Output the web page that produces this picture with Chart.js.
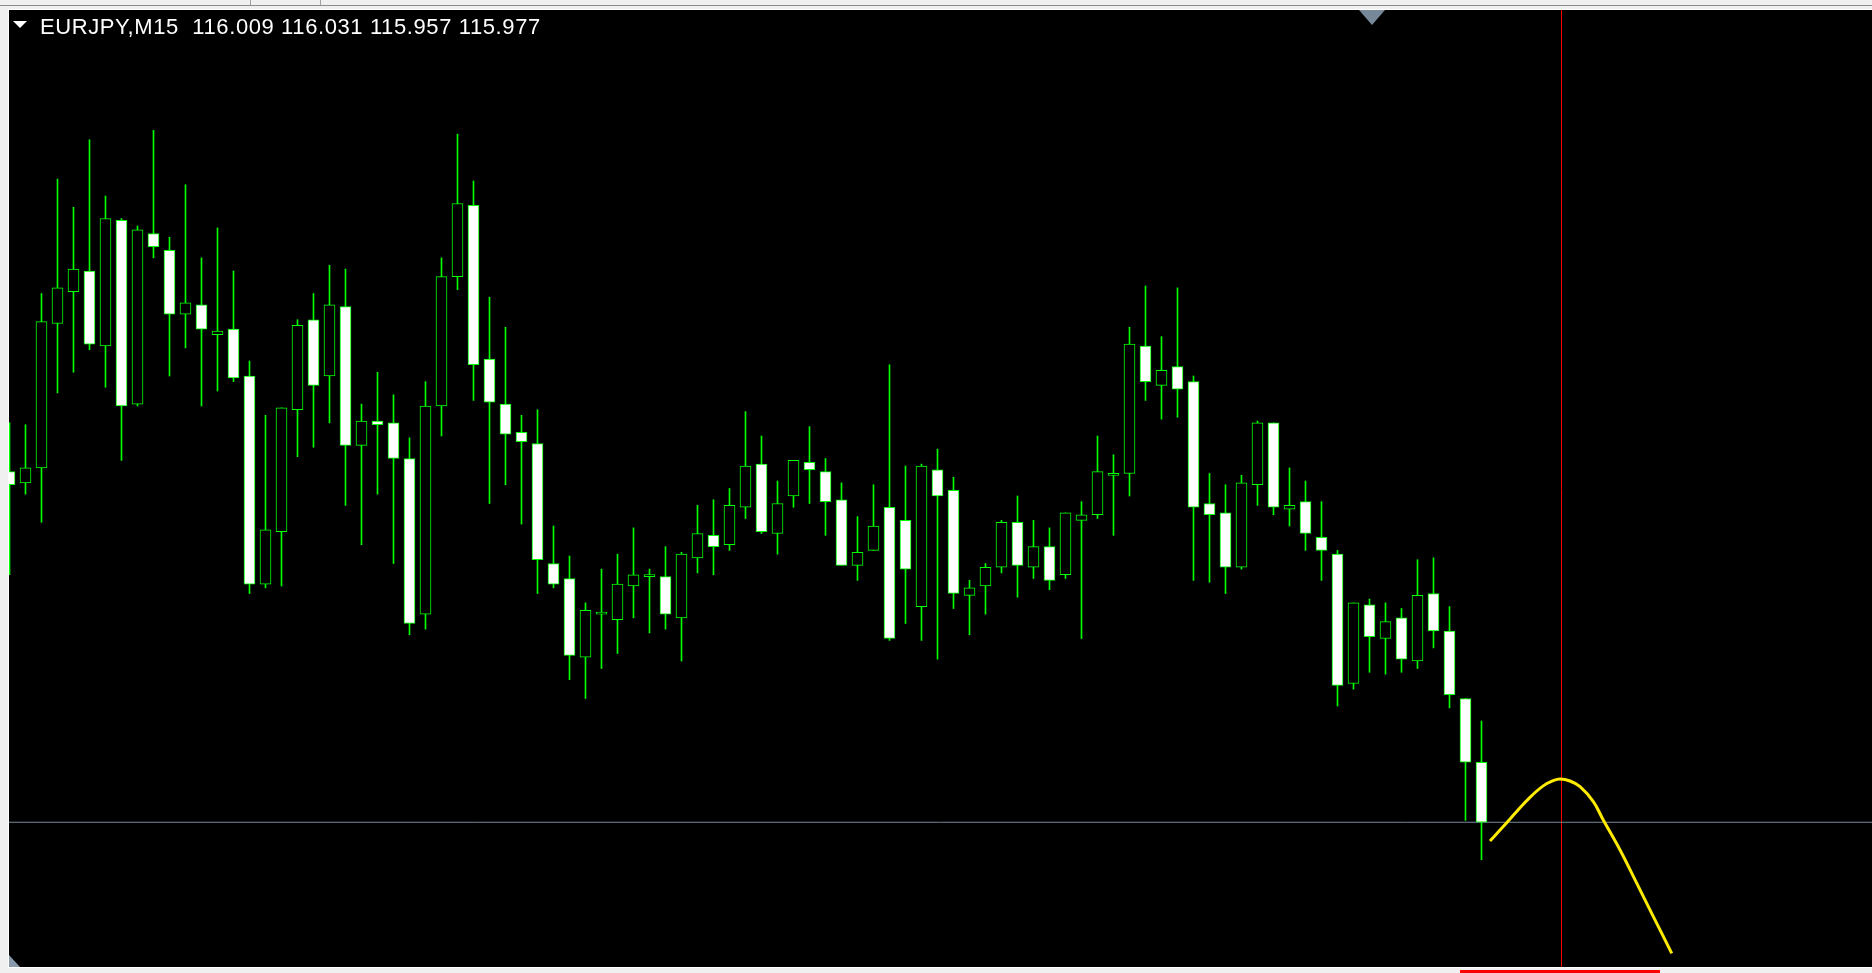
<!DOCTYPE html>
<html>
<head>
<meta charset="utf-8">
<script src="https://cdn.jsdelivr.net/npm/chart.js@4.4.1/dist/chart.umd.min.js"></script>
<style>
  html, body { margin: 0; padding: 0; width: 1872px; height: 973px; overflow: hidden; background: #f0f0f0; }
  #topline { position: absolute; left: 0; top: 5px; width: 1872px; height: 1px; background: #8c8c8c; }
  .tabsep { position: absolute; top: 0; width: 1px; height: 5px; background: #a0a0a0; }
  #frame {
    position: absolute; left: 8px; top: 9px; width: 1864px; height: 959px;
    box-sizing: border-box; background: #000;
    border-left: 1px solid #fff; border-top: 1px solid #fff; border-bottom: 1px solid #fff;
  }
  #chart { position: absolute; left: 0; top: 0; }
  #title {
    position: absolute; left: 40px; top: 16px; color: #fff; white-space: pre;
    font: 22px/22px "Liberation Sans", Arial, sans-serif; letter-spacing: 0.6px;
  }
  #menuArrow {
    position: absolute; left: 13px; top: 21px; width: 0; height: 0;
    border-left: 7px solid transparent; border-right: 7px solid transparent; border-top: 7px solid #fff;
  }
  #shiftMark {
    position: absolute; left: 1359px; top: 10px; width: 0; height: 0;
    border-left: 13px solid transparent; border-right: 13px solid transparent; border-top: 15px solid #778899;
  }
  #scaleMark {
    position: absolute; left: 9px; top: 955px; width: 11px; height: 12px; background: #8899aa;
    clip-path: polygon(0 0, 0 100%, 100% 100%);
  }
  #redBar { position: absolute; left: 1460px; top: 970px; width: 200px; height: 3px; background: #ff0000; }
</style>
</head>
<body>
<div id="topline"></div>
<div class="tabsep" style="left:250px"></div>
<div class="tabsep" style="left:320px"></div>
<div id="frame"><canvas id="chart" width="1863" height="957"></canvas></div>
<div id="menuArrow"></div>
<div id="title">EURJPY,M15  116.009 116.031 115.957 115.977</div>
<div id="shiftMark"></div>
<div id="scaleMark"></div>
<div id="redBar"></div>
<script>
// EURJPY M15 bars (open / high / low / close)
const opens = [116.164, 116.158, 116.166, 116.243, 116.260, 116.271, 116.231, 116.298, 116.200, 116.291,
  116.282, 116.248, 116.253, 116.237, 116.240, 116.215, 116.104, 116.132, 116.197, 116.245,
  116.215, 116.252, 116.178, 116.191, 116.190, 116.171, 116.088, 116.199, 116.268, 116.306,
  116.224, 116.200, 116.185, 116.179, 116.115, 116.107, 116.065, 116.088, 116.085, 116.103,
  116.108, 116.108, 116.086, 116.118, 116.130, 116.125, 116.145, 116.168, 116.131, 116.151,
  116.169, 116.164, 116.149, 116.114, 116.122, 116.145, 116.138, 116.092, 116.165, 116.154,
  116.098, 116.103, 116.113, 116.137, 116.113, 116.124, 116.109, 116.138, 116.141, 116.162,
  116.163, 116.231, 116.210, 116.220, 116.212, 116.147, 116.142, 116.113, 116.157, 116.190,
  116.144, 116.148, 116.129, 116.120, 116.051, 116.093, 116.075, 116.086, 116.063, 116.099,
  116.079, 116.043, 116.009];
const highs = [116.190, 116.189, 116.259, 116.320, 116.305, 116.341, 116.311, 116.299, 116.295, 116.346,
  116.289, 116.317, 116.278, 116.294, 116.271, 116.223, 116.194, 116.198, 116.245, 116.259,
  116.274, 116.272, 116.200, 116.217, 116.205, 116.182, 116.212, 116.278, 116.344, 116.319,
  116.257, 116.241, 116.194, 116.197, 116.135, 116.119, 116.094, 116.112, 116.120, 116.134,
  116.112, 116.124, 116.121, 116.146, 116.149, 116.155, 116.196, 116.183, 116.159, 116.170,
  116.188, 116.171, 116.158, 116.140, 116.157, 116.221, 116.167, 116.168, 116.176, 116.161,
  116.106, 116.115, 116.138, 116.151, 116.138, 116.134, 116.142, 116.148, 116.183, 116.173,
  116.241, 116.263, 116.236, 116.262, 116.215, 116.163, 116.157, 116.162, 116.191, 116.190,
  116.166, 116.159, 116.148, 116.122, 116.094, 116.096, 116.094, 116.091, 116.117, 116.118,
  116.092, 116.043, 116.031];
const lows = [116.109, 116.152, 116.137, 116.206, 116.217, 116.229, 116.209, 116.170, 116.199, 116.278,
  116.215, 116.230, 116.199, 116.207, 116.212, 116.099, 116.102, 116.103, 116.172, 116.177,
  116.190, 116.146, 116.125, 116.152, 116.115, 116.077, 116.080, 116.183, 116.261, 116.202,
  116.147, 116.157, 116.136, 116.099, 116.102, 116.053, 116.043, 116.059, 116.067, 116.086,
  116.078, 116.080, 116.063, 116.110, 116.109, 116.122, 116.139, 116.131, 116.120, 116.145,
  116.147, 116.130, 116.114, 116.106, 116.122, 116.074, 116.083, 116.074, 116.064, 116.091,
  116.077, 116.088, 116.110, 116.097, 116.107, 116.101, 116.107, 116.075, 116.139, 116.130,
  116.151, 116.202, 116.192, 116.193, 116.106, 116.105, 116.099, 116.112, 116.146, 116.141,
  116.135, 116.122, 116.106, 116.039, 116.048, 116.057, 116.056, 116.057, 116.059, 116.070,
  116.038, 115.978, 115.957];
const closes = [116.157, 116.166, 116.244, 116.262, 116.272, 116.232, 116.299, 116.199, 116.293, 116.284,
  116.248, 116.254, 116.240, 116.239, 116.214, 116.104, 116.133, 116.198, 116.242, 116.210,
  116.253, 116.178, 116.191, 116.189, 116.171, 116.083, 116.199, 116.268, 116.307, 116.221,
  116.201, 116.184, 116.180, 116.117, 116.104, 116.066, 116.090, 116.088, 116.104, 116.109,
  116.108, 116.088, 116.120, 116.131, 116.124, 116.146, 116.167, 116.132, 116.147, 116.170,
  116.165, 116.148, 116.114, 116.121, 116.135, 116.075, 116.112, 116.167, 116.151, 116.099,
  116.102, 116.113, 116.137, 116.114, 116.124, 116.106, 116.142, 116.141, 116.164, 116.162,
  116.232, 116.212, 116.218, 116.208, 116.145, 116.141, 116.113, 116.158, 116.190, 116.145,
  116.146, 116.131, 116.122, 116.050, 116.094, 116.076, 116.084, 116.064, 116.098, 116.079,
  116.045, 116.009, 115.977];

// yellow projection curve (bar index, price)
const forecastX = [92.53, 93.36, 94.20, 95.03, 95.86, 96.49, 96.91, 97.53, 98.16, 98.99, 99.61, 100.66, 101.70, 102.74, 103.89];
const forecastY = [115.9670, 115.9747, 115.9827, 115.9903, 115.9964, 115.9992, 116.0001, 115.9990, 115.9960, 115.9880,
  115.9782, 115.9622, 115.9445, 115.9267, 115.9071];

const bidPrice = 115.977;
const cursorBar = 97;

// visible window of the chart
const xMin = -0.03125, xMax = 116.40625;
const yMin = 115.8998, yMax = 116.4102;

const bodies = opens.map((o, i) => ({ x: i, y: [Math.min(o, closes[i]), Math.max(o, closes[i])] }));
const wicks = lows.map((l, i) => ({ x: i, y: [l, highs[i]] }));
const bodyFill = opens.map((o, i) => closes[i] < o ? '#ffffff' : '#000000');

new Chart(document.getElementById('chart'), {
  type: 'bar',
  data: {
    datasets: [
      {
        label: 'body',
        data: bodies,
        backgroundColor: bodyFill,
        borderColor: '#00ff00',
        borderWidth: 1,
        borderSkipped: false,
        barThickness: 11,
        minBarLength: 2,
        grouped: false
      },
      {
        label: 'wick',
        data: wicks,
        backgroundColor: '#00ff00',
        borderWidth: 0,
        barThickness: 1,
        grouped: false
      },
      {
        type: 'line',
        label: 'forecast',
        data: forecastX.map((x, i) => ({ x: x, y: forecastY[i] })),
        borderColor: 'rgb(255, 235, 0)',
        borderWidth: 3,
        pointRadius: 0,
        tension: 0.4
      },
      {
        type: 'line',
        label: 'bid',
        data: [{ x: xMin, y: bidPrice }, { x: xMax, y: bidPrice }],
        borderColor: '#778899',
        borderWidth: 1,
        pointRadius: 0
      },
      {
        type: 'line',
        label: 'cursor',
        data: [{ x: cursorBar, y: yMin }, { x: cursorBar, y: yMax }],
        borderColor: '#ff0000',
        borderWidth: 1,
        pointRadius: 0
      }
    ]
  },
  options: {
    responsive: false,
    animation: false,
    devicePixelRatio: 1,
    layout: { padding: 0 },
    plugins: { legend: { display: false }, tooltip: { enabled: false } },
    scales: {
      x: { type: 'linear', min: xMin, max: xMax, offset: false, display: false },
      y: { min: yMin, max: yMax, display: false }
    }
  }
});
</script>
</body>
</html>
